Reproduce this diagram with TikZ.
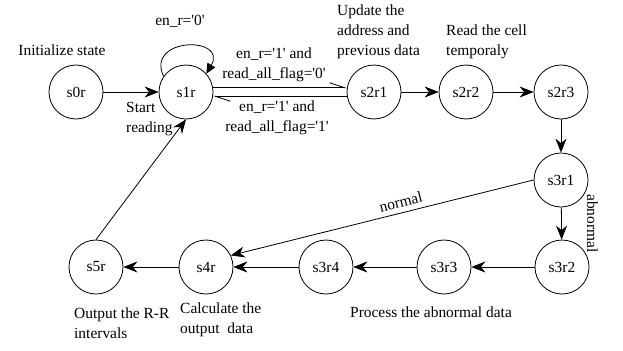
\documentclass[tikz,border=0pt]{standalone}
\usepackage{fontspec}
\setmainfont{Liberation Serif}[Ligatures=TeXOff]
\usetikzlibrary{arrows.meta}

\tikzset{
  state/.style={circle, draw, line width=0.8bp, minimum size=54bp, inner sep=0pt},
  note/.style={align=left, inner sep=0pt},
  tran/.style={line width=0.8bp, -{Stealth[length=14bp,width=11bp]}},
  half/.style={line width=0.8bp, -{Straight Barb[harpoon,left,length=15bp,width=10bp]}}
}

\begin{document}
\begin{tikzpicture}[x=1bp,y=1bp,font=\fontsize{15.5}{20}\selectfont]
\useasboundingbox (0,0) rectangle (623,350);

% states
\node[state] (s0r) at (76,258) {s0r};
\node[state] (s1r) at (186,258) {s1r};
\node[state] (s2r1) at (374,258) {s2r1};
\node[state] (s2r2) at (466,258) {s2r2};
\node[state] (s2r3) at (561,258) {s2r3};
\node[state] (s3r1) at (561,170) {s3r1};
\node[state] (s3r2) at (562,83) {s3r2};
\node[state] (s3r3) at (444,83) {s3r3};
\node[state] (s3r4) at (326,83) {s3r4};
\node[state] (s4r) at (206,83) {s4r};
\node[state] (s5r) at (96,83) {s5r};

% notes
\node (init) at (62,300) {Initialize state};
\node (wait) at (180,329) {en\_r='0'};
\node[align=center] (go) at (274,285) {en\_r='1' and\\read\_all\_flag='0'};
\node[align=center] (back) at (277,232) {en\_r='1' and\\read\_all\_flag='1'};
\node[note, anchor=west] (start) at (126,231) {Start\\reading};
\node[note, anchor=west] (upd) at (337,318) {Update the\\address and\\previous data};
\node[note, anchor=west] (rd) at (446,308) {Read the cell\\temporaly};
\node (proc) at (431,38) {Process the abnormal data};
\node[note, anchor=west] (calc) at (180,30) {Calculate the\\output\ \ data};
\node[note, anchor=west] (outp) at (74,27) {Output the R-R\\intervals};

% transitions
\draw[tran] (s0r) -- (s1r);
\draw[line width=0.8bp, -{Triangle[length=10bp,width=9bp]}] (s1r.145) to[out=115, in=60, looseness=2.6] (s1r.42);
\draw[half] (s1r.9) -- (s2r1.171);
\draw[half] (s2r1.189) -- (s1r.351);
\draw[tran] (s2r1) -- (s2r2);
\draw[tran] (s2r2) -- (s2r3);
\draw[tran] (s2r3) -- (s3r1);
\draw[tran] (s3r1) -- node[midway, xshift=31bp, rotate=-90] (abn) {abnormal} (s3r2);
\draw[tran] (s3r1.west) -- node[pos=0.43, above=2bp, sloped] (nor) {normal} (s4r.25);
\draw[tran] (s3r2) -- (s3r3);
\draw[tran] (s3r3) -- (s3r4);
\draw[tran] (s3r4) -- (s4r);
\draw[tran] (s4r) -- (s5r);
\draw[tran] (s5r.north) -- (s1r.south);

\end{tikzpicture}
\end{document}
